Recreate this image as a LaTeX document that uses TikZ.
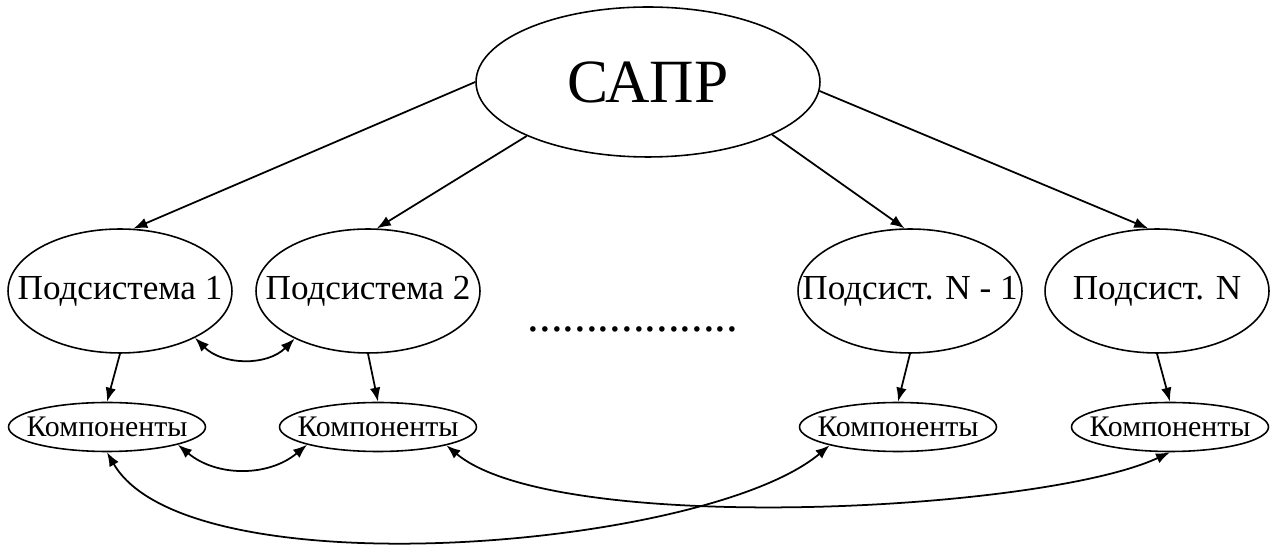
\documentclass[tikz,border=0pt]{standalone}
\usepackage{fontspec}
\setmainfont{Liberation Serif}
\usetikzlibrary{shapes.geometric,arrows.meta}

\begin{document}
\begin{tikzpicture}
[x=0.02cm,y=0.02cm,
  ellipseDecorate/.style={shape=ellipse,draw,line width=0.9pt,inner sep=0pt},
  saprDecorate/.style={ellipseDecorate,minimum width=6.88cm,minimum height=3cm,
    label={[font=\fontsize{35}{40}\selectfont]center:#1}},
  subDecorate/.style={ellipseDecorate,minimum width=4.48cm,minimum height=2.48cm,
    label={[font=\fontsize{20}{24}\selectfont]center:#1}},
  compDecorate/.style={ellipseDecorate,minimum width=3.94cm,minimum height=0.98cm,
    label={[font=\fontsize{17}{20}\selectfont]center:#1}},
  lineDecorate/.style={-{Latex[length=8pt,width=6pt]},line width=1pt},
  bothDecorate/.style={{Latex[length=8pt,width=6pt]}-{Latex[length=8pt,width=6pt]},line width=1pt},
  scale=1]
\useasboundingbox (0,0) rectangle (1274,547);
%% nodes or vertices
\node (sapr) at (648,465) [saprDecorate=САПР] {};
\foreach \nodename/\x/\txt in {
  p1/120/Подсистема 1, p2/368/Подсистема 2,
  pn1/910/Подсист. N - 1, pn/1157/Подсист. N}
{
  \node (\nodename) at (\x,256) [subDecorate=\txt] {};
}
\foreach \nodename/\x in {k1/107, k2/378, kn1/898, kn/1170}
{
  \node (\nodename) at (\x,120) [compDecorate=Компоненты] {};
}
\node (dots) at (633,215) [anchor=base,font=\fontsize{26.6}{30}\selectfont] {..................};
%% edges or lines
\path
\foreach \startnode/\endnode in {
  sapr.west/p1.78, sapr.204/p2.82, sapr.-23/pn1.95, sapr.-3/pn.98,
  p1.south/k1.north, p2.south/k2.north, pn1.south/kn1.north, pn.south/kn.north}
{
  (\startnode) edge[lineDecorate] (\endnode)
};
\draw[bothDecorate] (p1.-32) to[out=-45,in=-135] (p2.213);
\draw[bothDecorate] (k1.-14) to[out=-40,in=-140] (k2.194);
\draw[bothDecorate] (k1.south) to[out=-60,in=-140,looseness=0.57] (kn1.195);
\draw[bothDecorate] (k2.-15) to[out=-40,in=-155,looseness=0.5] (kn.south);
\end{tikzpicture}
\end{document}
